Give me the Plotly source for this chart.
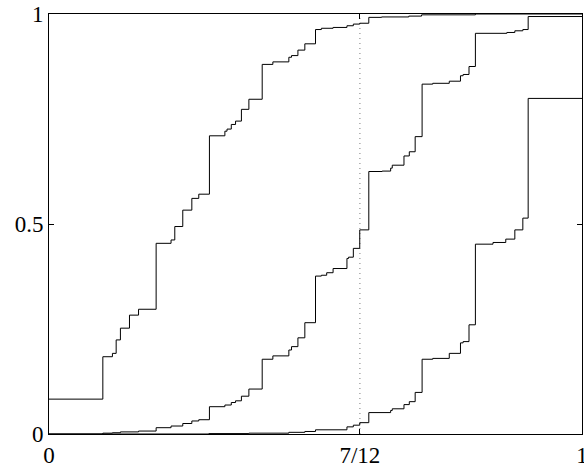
import plotly.graph_objects as go

# Step functions (x = threshold, y = cumulative probability), drawn as right-continuous stairs
x_low = [0.0, 0.101, 0.119, 0.126, 0.134, 0.151, 0.168, 0.201, 0.229, 0.236, 0.251, 0.268, 0.281,
         0.301, 0.330, 0.334, 0.342, 0.350, 0.361, 0.375, 0.400, 0.420, 0.450, 0.455, 0.467,
         0.480, 0.500, 0.511, 0.533, 0.559, 0.571, 0.583, 0.600, 0.624, 0.675, 0.699, 0.800, 1.0]
y_low = [0.083, 0.184, 0.192, 0.224, 0.252, 0.283, 0.297, 0.454, 0.462, 0.494, 0.533, 0.561, 0.571,
         0.710, 0.721, 0.726, 0.737, 0.745, 0.773, 0.797, 0.880, 0.886, 0.897, 0.901, 0.914,
         0.929, 0.963, 0.966, 0.968, 0.972, 0.976, 0.978, 0.992, 0.993, 0.995, 0.998, 1.0, 1.0]

x_mid = [0.0, 0.101, 0.119, 0.134, 0.168, 0.201, 0.229, 0.251, 0.268, 0.281, 0.301, 0.330, 0.342,
         0.350, 0.361, 0.375, 0.400, 0.420, 0.450, 0.455, 0.467, 0.480, 0.500, 0.511, 0.521,
         0.533, 0.559, 0.562, 0.571, 0.583, 0.600, 0.625, 0.641, 0.644, 0.666, 0.676, 0.687,
         0.700, 0.720, 0.751, 0.772, 0.777, 0.788, 0.800, 0.859, 0.874, 0.889, 0.899, 1.0]
y_mid = [0.0, 0.002, 0.003, 0.005, 0.007, 0.015, 0.019, 0.025, 0.031, 0.034, 0.065, 0.069, 0.075,
         0.079, 0.090, 0.107, 0.178, 0.186, 0.200, 0.208, 0.229, 0.265, 0.376, 0.378, 0.384,
         0.394, 0.418, 0.421, 0.442, 0.486, 0.625, 0.626, 0.633, 0.640, 0.662, 0.672, 0.708,
         0.833, 0.835, 0.840, 0.853, 0.856, 0.875, 0.954, 0.956, 0.960, 0.963, 0.994, 0.994]

x_high = [0.0, 0.300, 0.375, 0.450, 0.480, 0.500, 0.559, 0.571, 0.583, 0.600, 0.641, 0.644, 0.666,
          0.676, 0.687, 0.700, 0.720, 0.751, 0.772, 0.777, 0.788, 0.800, 0.833, 0.857, 0.874,
          0.889, 0.899, 1.0]
y_high = [0.0, 0.001, 0.002, 0.004, 0.006, 0.010, 0.017, 0.021, 0.027, 0.051, 0.056, 0.060, 0.070,
          0.077, 0.099, 0.178, 0.180, 0.192, 0.217, 0.220, 0.260, 0.452, 0.456, 0.464, 0.486,
          0.514, 0.799, 0.799]

# Reference threshold marked with a dotted vertical line
x_ref = [7 / 12, 7 / 12]
y_ref = [0.0, 1.0]

x_tick_vals = [0, 7 / 12, 1]
x_tick_text = ["0", "7/12", "1"]
y_tick_vals = [0, 0.5, 1]
y_tick_text = ["0", "0.5", "1"]

fig = go.Figure()
fig.add_trace(go.Scatter(x=x_ref, y=y_ref, mode="lines",
                         line=dict(color="#7a7a7a", width=1, dash="1px,4px"),
                         hoverinfo="skip"))
for xs, ys in [(x_low, y_low), (x_mid, y_mid), (x_high, y_high)]:
    fig.add_trace(go.Scatter(x=xs, y=ys, mode="lines", line_shape="hv",
                             line=dict(color="black", width=1)))

axis_common = dict(
    showline=True, mirror="ticks", linecolor="black", linewidth=1,
    ticks="inside", ticklen=5, tickcolor="black", tickwidth=1,
    showgrid=False, zeroline=False, ticklabeloverflow="allow",
    automargin=False,
    tickfont=dict(family="Liberation Serif", size=23, color="black"),
)

fig.update_layout(
    width=584, height=467,
    margin=dict(l=49, r=2, t=14, b=33),
    paper_bgcolor="white", plot_bgcolor="white",
    showlegend=False,
    xaxis=dict(range=[0, 1], tickmode="array", tickvals=x_tick_vals,
               ticktext=x_tick_text, **axis_common),
    yaxis=dict(range=[0, 1], tickmode="array", tickvals=y_tick_vals,
               ticktext=y_tick_text, **axis_common),
)

fig.write_html("out.html")
